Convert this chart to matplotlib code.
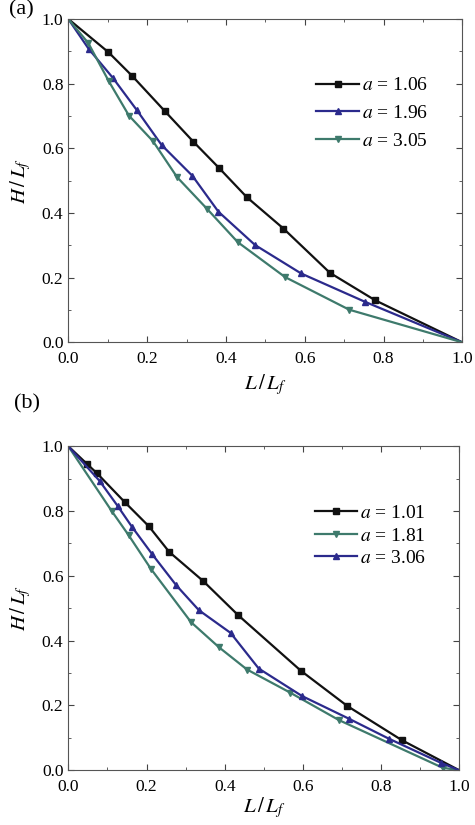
import numpy as np
import matplotlib.pyplot as plt
from matplotlib.ticker import MultipleLocator, FormatStrFormatter

plt.rcParams['font.family'] = 'Liberation Serif'
plt.rcParams['mathtext.fontset'] = 'stix'

# panel (a)
a_x1 = [0.0, 0.102, 0.162, 0.245, 0.317, 0.382, 0.453, 0.546, 0.664, 0.779, 1.0]
a_y1 = [1.0, 0.897, 0.824, 0.715, 0.621, 0.540, 0.449, 0.352, 0.215, 0.130, 0.0]
a_x2 = [0.0, 0.052, 0.113, 0.174, 0.237, 0.315, 0.381, 0.474, 0.591, 0.752, 1.0]
a_y2 = [1.0, 0.907, 0.818, 0.718, 0.610, 0.515, 0.404, 0.301, 0.213, 0.126, 0.0]
a_x3 = [0.0, 0.051, 0.103, 0.154, 0.215, 0.276, 0.352, 0.430, 0.550, 0.713, 1.0]
a_y3 = [1.0, 0.925, 0.807, 0.701, 0.622, 0.511, 0.413, 0.310, 0.202, 0.101, 0.0]
a_labels = ['1.06', '1.96', '3.05']

# panel (b)
b_x1 = [0.0, 0.049, 0.073, 0.144, 0.206, 0.258, 0.345, 0.435, 0.595, 0.714, 0.853, 1.0]
b_y1 = [1.0, 0.944, 0.917, 0.828, 0.753, 0.674, 0.584, 0.478, 0.307, 0.198, 0.093, 0.0]
b_x2 = [0.0, 0.111, 0.154, 0.211, 0.314, 0.385, 0.457, 0.567, 0.692, 0.957, 1.0]
b_y2 = [1.0, 0.800, 0.726, 0.622, 0.457, 0.380, 0.311, 0.240, 0.155, 0.008, 0.0]
b_x3 = [0.0, 0.080, 0.126, 0.163, 0.215, 0.276, 0.334, 0.415, 0.487, 0.598, 0.718, 0.819, 0.953, 1.0]
b_y3 = [1.0, 0.893, 0.816, 0.751, 0.666, 0.571, 0.494, 0.424, 0.314, 0.229, 0.159, 0.098, 0.023, 0.0]
b_labels = ['1.01', '1.81', '3.06']

black = '#111111'
blue = '#2b2a8c'
green = '#3e7a6c'

fig = plt.figure(figsize=(4.75, 8.25), dpi=100)
ax1 = fig.add_axes([0.1438, 0.585, 0.8295, 0.392])
ax2 = fig.add_axes([0.1438, 0.0663, 0.8232, 0.3928])


def draw(ax, series, legend_y, spacing, xpad):
    for x, y, c, m, lab in series:
        ax.plot(x, y, color=c, lw=1.6, marker=m, ms=4.5,
                markevery=list(range(1, len(x) - 1)), label=r'$a$ = ' + lab)
    ax.set_xlim(0, 1)
    ax.set_ylim(0, 1)
    ax.xaxis.set_major_locator(MultipleLocator(0.2))
    ax.yaxis.set_major_locator(MultipleLocator(0.2))
    ax.xaxis.set_minor_locator(MultipleLocator(0.1))
    ax.yaxis.set_minor_locator(MultipleLocator(0.1))
    ax.xaxis.set_major_formatter(FormatStrFormatter('%.1f'))
    ax.yaxis.set_major_formatter(FormatStrFormatter('%.1f'))
    ax.tick_params(which='both', direction='in', top=True, right=True,
                   labelsize=12.5, color='#444444')
    ax.tick_params(which='major', length=4)
    ax.tick_params(which='minor', length=2.5)
    ax.tick_params(axis='x', pad=6)
    for s in ax.spines.values():
        s.set_color('#555555')
    ax.set_xlabel(r'$L\,/\,L_f$', fontsize=15, labelpad=xpad)
    ax.set_ylabel(r'$H\,/\,L_f$', fontsize=15, labelpad=6)
    ax.legend(loc='upper left', bbox_to_anchor=(0.61, legend_y), frameon=False,
              fontsize=14, handlelength=2.2, handletextpad=0.15,
              labelspacing=spacing, borderaxespad=0)


draw(ax1, [(a_x1, a_y1, black, 's', a_labels[0]),
           (a_x2, a_y2, blue, '^', a_labels[1]),
           (a_x3, a_y3, green, 'v', a_labels[2])], 0.845, 0.52, 4)
draw(ax2, [(b_x1, b_y1, black, 's', b_labels[0]),
           (b_x2, b_y2, green, 'v', b_labels[1]),
           (b_x3, b_y3, blue, '^', b_labels[2])], 0.845, 0.26, 0)

fig.text(0.02, 1.0, '(a)', fontsize=16, va='top')
fig.text(0.03, 0.51, '(b)', fontsize=16, va='center')

plt.savefig('out.png', dpi=100)
